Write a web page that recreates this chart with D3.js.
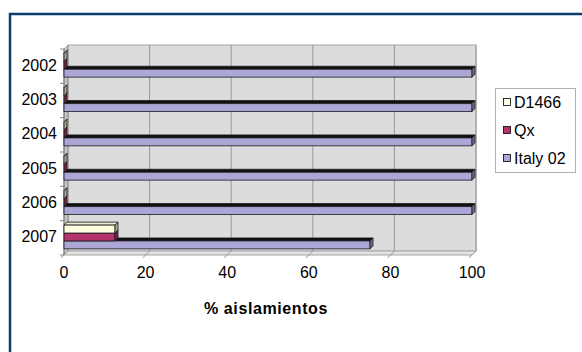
<!DOCTYPE html>
<html>
<head>
<meta charset="utf-8">
<script src="https://cdn.jsdelivr.net/npm/d3@7"></script>
<style>
  body { margin: 0; background: #fff; }
  svg { display: block; font-family: "Liberation Sans", Arial, sans-serif; }
</style>
</head>
<body>
<div id="chart"></div>
<script>
// data
const years = ["2002", "2003", "2004", "2005", "2006", "2007"];
const seriesNames = ["D1466", "Qx", "Italy 02"];
const d1466 = [0, 0, 0, 0, 0, 12.5];
const qx = [0, 0, 0, 0, 0, 12.5];
const italy02 = [100, 100, 100, 100, 100, 75];
const xTicks = [0, 20, 40, 60, 80, 100];
const seriesColors = ["#fffde0", "#b3346c", "#aaa6d6"];

const seriesValues = [d1466, qx, italy02];
const width = 582, height = 352;
const depth = 4;      // wall depth
const barDepth = 3;   // bar depth

const svg = d3.select("#chart").append("svg")
    .attr("width", width)
    .attr("height", height);

// outer frame (only top/left visible)
svg.append("rect")
    .attr("x", 10).attr("y", 14)
    .attr("width", width + 20).attr("height", height + 20)
    .attr("fill", "#fff")
    .attr("stroke", "#0b3c6e")
    .attr("stroke-width", 2.5);

// front plane scales
const xScale = d3.scaleLinear().domain([0, 100]).range([64, 472]);
const yScale = d3.scaleBand().domain(years).range([49, 255]);
const subScale = d3.scaleBand().domain(seriesNames)
    .range([yScale.bandwidth() * 0.13, yScale.bandwidth() * 0.82]);

const x0 = xScale(0), x1 = xScale(100);
const yTop = yScale.range()[0], yBot = yScale.range()[1];

const poly = pts => pts.map(p => p.join(",")).join(" ");

// back wall
svg.append("rect")
    .attr("x", x0 + depth).attr("y", yTop - depth)
    .attr("width", x1 - x0).attr("height", yBot - yTop)
    .attr("fill", "#dcdcdc")
    .attr("stroke", "#a6a6a6").attr("stroke-width", 1);

// side wall
svg.append("polygon")
    .attr("points", poly([[x0, yTop], [x0 + depth, yTop - depth], [x0 + depth, yBot - depth], [x0, yBot]]))
    .attr("fill", "#c4c4c4")
    .attr("stroke", "#a6a6a6").attr("stroke-width", 1);

// floor
svg.append("polygon")
    .attr("points", poly([[x0, yBot], [x0 + depth, yBot - depth], [x1 + depth, yBot - depth], [x1, yBot]]))
    .attr("fill", "#e2e2e2")
    .attr("stroke", "#a6a6a6").attr("stroke-width", 1);

// vertical gridlines on the wall + floor
svg.append("g").selectAll("path")
    .data(xTicks)
    .join("path")
    .attr("d", t => {
        const x = xScale(t);
        return `M${x + depth},${yTop - depth}V${yBot - depth}L${x - 3},${yBot + 3}`;
    })
    .attr("fill", "none")
    .attr("stroke", "#9a9a9a")
    .attr("stroke-width", 1);

// y axis line and ticks at category boundaries
svg.append("line")
    .attr("x1", x0).attr("x2", x0)
    .attr("y1", yTop).attr("y2", yBot)
    .attr("stroke", "#777").attr("stroke-width", 1);

svg.append("g").selectAll("line")
    .data(years.map(y => yScale(y)).concat([yBot]))
    .join("line")
    .attr("x1", x0 - 4).attr("x2", x0)
    .attr("y1", d => d).attr("y2", d => d)
    .attr("stroke", "#888").attr("stroke-width", 1);

// 3D bars: draw bottom series first so upper bars hide their top faces
const barsG = svg.append("g");
years.forEach((year, i) => {
    for (let s = seriesNames.length - 1; s >= 0; s--) {
        const v = seriesValues[s][i];
        const color = d3.color(seriesColors[s]);
        const bx0 = xScale(0), bx1 = xScale(v);
        const by = yScale(year) + subScale(seriesNames[s]);
        const bh = subScale.bandwidth();
        const g = barsG.append("g")
            .attr("stroke", "#1a1a1a")
            .attr("stroke-width", 0.8)
            .attr("stroke-linejoin", "round");
        // top face
        g.append("polygon")
            .attr("points", poly([[bx0, by], [bx0 + barDepth, by - barDepth], [bx1 + barDepth, by - barDepth], [bx1, by]]))
            .attr("fill", s === 2 ? "#111" : color.darker(0.2));
        // front face
        g.append("rect")
            .attr("x", bx0).attr("y", by)
            .attr("width", bx1 - bx0).attr("height", bh)
            .attr("fill", color);
        // end face
        g.append("polygon")
            .attr("points", poly([[bx1, by], [bx1 + barDepth, by - barDepth], [bx1 + barDepth, by + bh - barDepth], [bx1, by + bh]]))
            .attr("fill", color.darker(1.2));
    }
});

// category labels
svg.append("g").selectAll("text")
    .data(years)
    .join("text")
    .attr("x", 57)
    .attr("y", d => yScale(d) + yScale.bandwidth() / 2 - 1)
    .attr("text-anchor", "end")
    .attr("dominant-baseline", "central")
    .attr("font-size", "16px")
    .attr("fill", "#000")
    .text(d => d);

// value labels
svg.append("g").selectAll("text")
    .data(xTicks)
    .join("text")
    .attr("x", d => xScale(d))
    .attr("y", 278)
    .attr("text-anchor", "middle")
    .attr("font-size", "16px")
    .attr("fill", "#000")
    .text(d => d);

// axis title
svg.append("text")
    .attr("x", 266)
    .attr("y", 314)
    .attr("text-anchor", "middle")
    .attr("font-size", "16px")
    .attr("font-weight", "bold")
    .attr("letter-spacing", "0.6px")
    .attr("fill", "#000")
    .text("% aislamientos");

// legend
const legend = svg.append("g");
legend.append("rect")
    .attr("x", 495.5).attr("y", 88.5)
    .attr("width", 80).attr("height", 84)
    .attr("fill", "#fff")
    .attr("stroke", "#b0b0b0").attr("stroke-width", 1);

const legendItems = legend.selectAll("g")
    .data(seriesNames)
    .join("g")
    .attr("transform", (d, i) => `translate(503,${102 + i * 28})`);

legendItems.append("rect")
    .attr("x", 0.5).attr("y", -3.5)
    .attr("width", 7).attr("height", 7)
    .attr("fill", (d, i) => seriesColors[i])
    .attr("stroke", "#000").attr("stroke-width", 0.8);

legendItems.append("text")
    .attr("x", 11)
    .attr("y", 0)
    .attr("dominant-baseline", "central")
    .attr("font-size", "16px")
    .attr("fill", "#000")
    .text(d => d);
</script>
</body>
</html>
